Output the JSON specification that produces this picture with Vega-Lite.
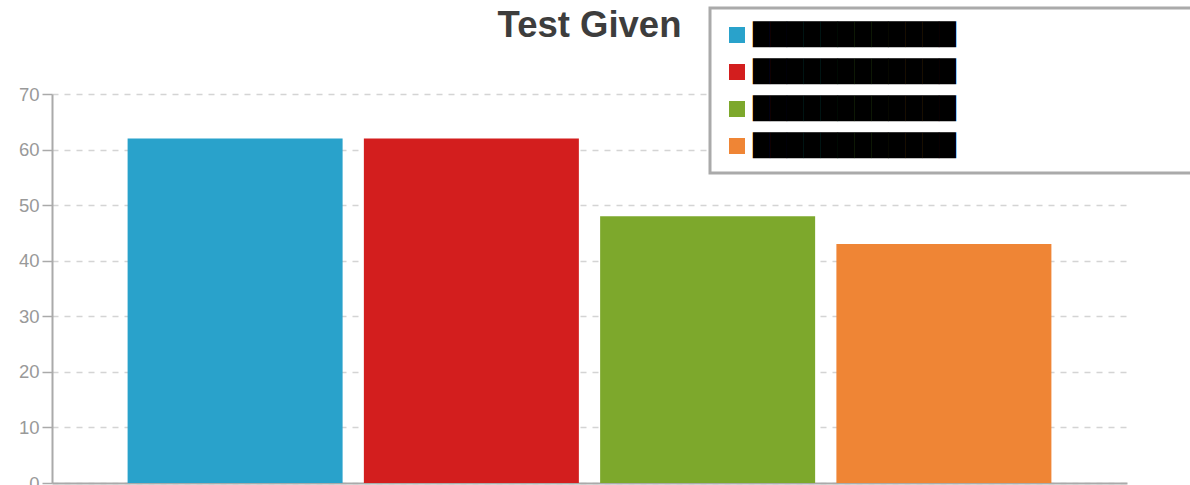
{
  "$schema": "https://vega.github.io/schema/vega-lite/v6.json",
  "width": 1075,
  "height": 389,
  "autosize": {"type": "none"},
  "padding": {"left": 52, "top": 94, "right": 63, "bottom": 2},
  "background": "white",
  "title": {
    "text": "Test Given",
    "font": "Liberation Sans",
    "fontSize": 36.5,
    "fontWeight": "bold",
    "color": "#3d3d3d",
    "anchor": "middle",
    "offset": -38
  },
  "data": {
    "values": [
      {"series": "Series 1", "value": 62},
      {"series": "Series 2", "value": 62},
      {"series": "Series 3", "value": 48},
      {"series": "Series 4", "value": 43}
    ]
  },
  "mark": {"type": "bar"},
  "encoding": {
    "x": {
      "field": "series",
      "type": "nominal",
      "sort": null,
      "scale": {"paddingInner": 0.09, "paddingOuter": 0.32},
      "axis": {
        "title": null,
        "labels": false,
        "ticks": false,
        "domainColor": "#aaaaaa",
        "domainWidth": 2
      }
    },
    "y": {
      "field": "value",
      "type": "quantitative",
      "scale": {"domain": [0, 70], "nice": false},
      "axis": {
        "title": null,
        "values": [0, 10, 20, 30, 40, 50, 60, 70],
        "labelFont": "Liberation Sans",
        "labelFontSize": 18.5,
        "labelColor": "#999999",
        "labelPadding": 3,
        "domainColor": "#aaaaaa",
        "domainWidth": 2,
        "tickColor": "#aaaaaa",
        "tickSize": 10,
        "tickWidth": 1.5,
        "grid": true,
        "gridColor": "#d4d4d4",
        "gridDash": [6, 6],
        "gridWidth": 1.5
      }
    },
    "color": {
      "field": "series",
      "type": "nominal",
      "sort": null,
      "scale": {"range": ["#29a2cb", "#d31e1e", "#7da82c", "#ef8535"]},
      "legend": {
        "title": null,
        "orient": "none",
        "legendX": 658,
        "legendY": -86,
        "symbolType": "square",
        "symbolSize": 256,
        "symbolStrokeWidth": 0,
        "symbolOpacity": 1,
        "labelFont": "DejaVu Sans",
        "labelFontSize": 22,
        "labelColor": "#000000",
        "labelLimit": 2000,
        "labelOffset": 5,
        "rowPadding": 15,
        "padding": 16,
        "fillColor": "white",
        "strokeColor": "#aaaaaa",
        "labelExpr": "'████████████' + '⠀⠀⠀⠀⠀⠀⠀⠀⠀⠀⠀⠀⠀⠀⠀⠀⠀⠀⠀⠀⠀⠀⠀⠀⠀⠀⠀⠀⠀⠀⠀⠀'"
      }
    }
  },
  "config": {
    "view": {"stroke": null},
    "legend": {"strokeWidth": 3}
  }
}
